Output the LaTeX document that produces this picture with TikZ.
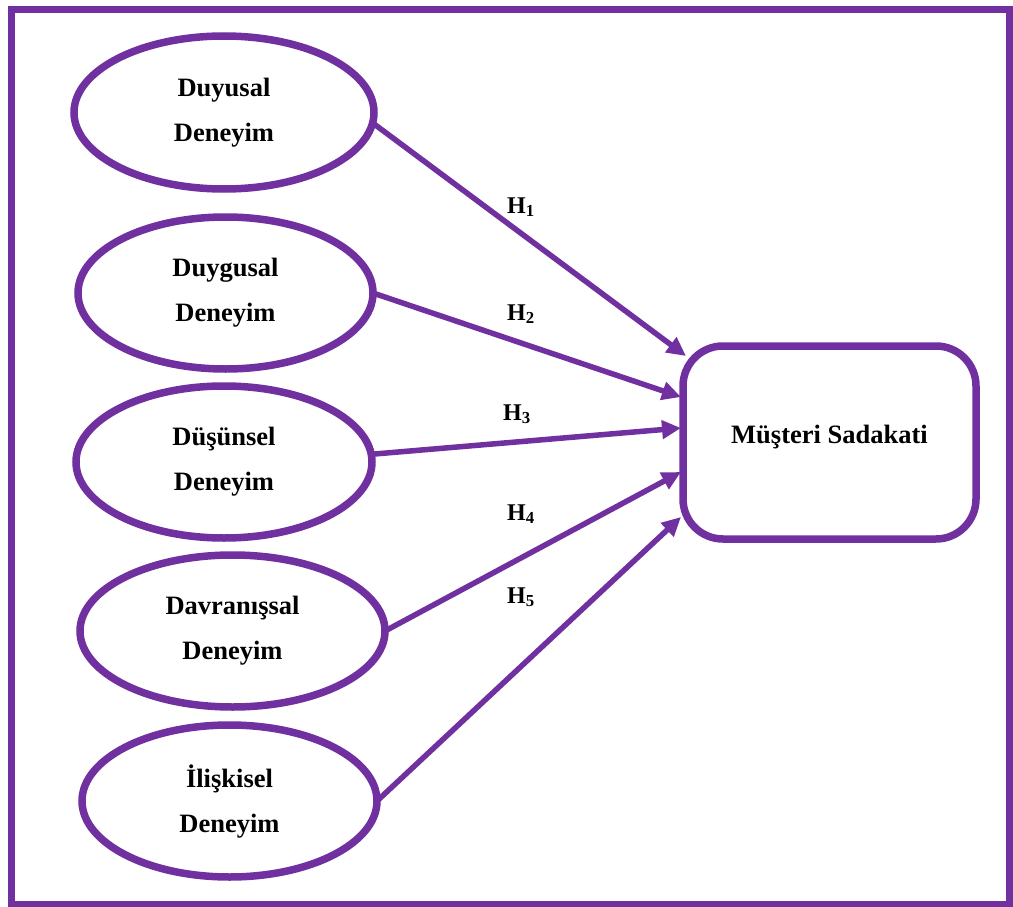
\documentclass[tikz,border=0pt]{standalone}
\usepackage{fontspec}
\setmainfont{Liberation Serif}
\usetikzlibrary{arrows.meta,shapes.geometric}
\definecolor{violet7}{HTML}{7030A0}
\begin{document}
\begin{tikzpicture}[x=1pt,y=-1pt,
  construct/.style={ellipse, draw=violet7, line width=7.5pt, fill=white,
    inner sep=0pt, outer sep=0pt, align=center,
    font=\fontsize{26.5}{45}\selectfont\bfseries},
  outcome/.style={rectangle, rounded corners=40pt, draw=violet7, line width=7.5pt,
    fill=white, inner sep=0pt, outer sep=0pt,
    minimum width=293pt, minimum height=193pt,
    font=\fontsize{26.5}{30}\selectfont\bfseries},
  hyp/.style={draw=violet7, line width=5.5pt, -{Triangle[length=19pt,width=18pt]}},
  hlabel/.style={anchor=base west, inner sep=0pt,
    font=\fontsize{24}{26}\selectfont\bfseries}]
\useasboundingbox (0,0) rectangle (1013,907);
\fill[white] (0,0) rectangle (1013,907);
% frame
\draw[violet7, line width=7pt] (11,10) rectangle (1009.5,904);

% experience dimensions
\node[construct, minimum width=300pt, minimum height=153pt] (e1) at (224,112.5) {Duyusal\\Deneyim};
\node[construct, minimum width=295pt, minimum height=152pt] (e2) at (225.5,293) {Duygusal\\Deneyim};
\node[construct, minimum width=296pt, minimum height=152pt] (e3) at (224,462) {Düşünsel\\Deneyim};
\node[construct, minimum width=305pt, minimum height=152pt] (e4) at (232.5,631) {Davranışsal\\Deneyim};
\node[construct, minimum width=295pt, minimum height=152pt] (e5) at (229.5,801) {İlişkisel\\Deneyim};

% outcome
\node[outcome, text height=12pt, text depth=11pt] (ms) at (829.5,442.5) {Müşteri Sadakati};

% hypotheses
\draw[hyp] (e1.-4) -- ([xshift=3pt,yshift=-10pt]ms.north west);
\draw[hyp] (e2.east) -- ([xshift=-2pt,yshift=45.5pt]ms.west);
\draw[hyp] (e3.3.5) -- ([xshift=-2pt,yshift=14.5pt]ms.west);
\draw[hyp] (e4.east) -- ([xshift=-2pt,yshift=-29.5pt]ms.west);
\draw[hyp] (e5.east) -- ([xshift=-2pt,yshift=-74.5pt]ms.west);

\node[hlabel] (h1) at (507,213) {H\textsubscript{1}};
\node[hlabel] (h2) at (507,320) {H\textsubscript{2}};
\node[hlabel] (h3) at (503,420) {H\textsubscript{3}};
\node[hlabel] (h4) at (507,520) {H\textsubscript{4}};
\node[hlabel] (h5) at (507,603) {H\textsubscript{5}};
\end{tikzpicture}
\end{document}
